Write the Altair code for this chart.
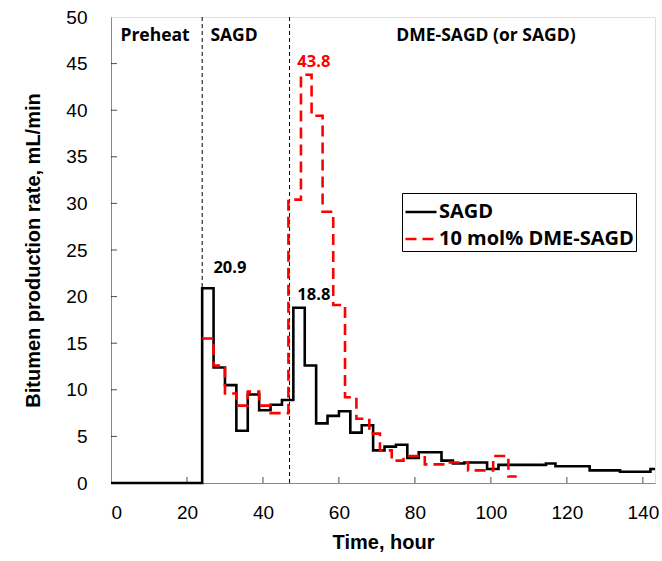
import altair as alt
import pandas as pd

# ---- data ----
sagd_t = [0, 24, 27, 30, 33, 36, 39, 42, 45, 48, 51, 54, 57, 60, 63, 66, 69, 72, 75, 78, 81, 87, 90, 93, 99,
          102, 114.5, 117, 126, 134, 142, 143.2]
sagd_v = [0, 20.9, 12.4, 10.5, 5.6, 9.5, 7.8, 8.4, 8.9, 18.8, 12.6, 6.4, 7.2, 7.7, 5.4, 6.2, 3.5, 3.9, 4.1,
          2.7, 3.3, 2.4, 2.1, 2.2, 1.5, 1.95, 2.1, 1.8, 1.35, 1.2, 1.5, 1.5]

dme_t = [24, 27, 30, 33, 36, 39, 42, 46.7, 50, 52.8, 55.7, 58.5, 61.6, 64.6, 68, 70.8, 73.9, 77, 82.6,
         88.5, 94, 100.6, 104.6, 106.8]
dme_v = [15.5, 12.6, 9.6, 8.3, 9.8, 8.3, 7.5, 30.4, 43.8, 39.4, 29.1, 19.1, 9.2, 6.9, 5.3, 3.5, 2.4, 2.9,
         2.0, 2.2, 1.35, 2.9, 0.7, 0.7]

series_names = ["SAGD", "10 mol% DME-SAGD"]
phase_boundaries = [24, 47]
phase_labels = ["Preheat", "SAGD", "DME-SAGD (or SAGD)"]
phase_label_t = [11.6, 32.4, 98.7]
peak_labels = ["20.9", "18.8", "43.8"]
peak_t = [31.3, 53.4, 53.4]
peak_v = [23.1, 20.2, 45.2]
peak_series = ["SAGD", "SAGD", "10 mol% DME-SAGD"]
x_ticks = [0, 20, 40, 60, 80, 100, 120, 140]
y_ticks = [0, 5, 10, 15, 20, 25, 30, 35, 40, 45, 50]

# ---- tables ----
rows = []
for i, (t, v) in enumerate(zip(sagd_t, sagd_v)):
    rows.append({"t": t, "v": v, "series": series_names[0], "i": i})
for i, (t, v) in enumerate(zip(dme_t, dme_v)):
    rows.append({"t": t, "v": v, "series": series_names[1], "i": i})
df = pd.DataFrame(rows)

W, H = 544, 466
FONT = "Open Sans"
XMAX = 143.2

xscale = alt.Scale(domain=[0, XMAX], nice=False, zero=False)
yscale = alt.Scale(domain=[0, 50], nice=False)
cscale = alt.Scale(domain=series_names, range=["#000000", "#FF0000"])
dscale = alt.Scale(domain=series_names, range=[[1, 0], [11, 6]])

xaxis = alt.Axis(values=x_ticks, title="Time, hour", tickSize=0, labelPadding=20, titlePadding=10,
                 labelFontSize=19, titleFontSize=20, grid=False)
yaxis = alt.Axis(values=y_ticks, title="Bitumen production rate, mL/min", tickSize=0, labelPadding=24,
                 titlePadding=22, labelFontSize=19, titleFontSize=20, grid=False)

legend = alt.Legend(orient="none", legendX=291, legendY=176, title=None, symbolType="stroke",
                    symbolSize=961, symbolStrokeWidth=2.5, labelFont=FONT, labelFontWeight="bold",
                    labelFontSize=20, labelColor="black", strokeColor="black", fillColor="white",
                    padding=2, rowPadding=-7, labelOffset=1, labelLimit=0)

lines = alt.Chart(df).mark_line(interpolate="step-after", strokeWidth=2.6).encode(
    x=alt.X("t:Q", scale=xscale, axis=xaxis),
    y=alt.Y("v:Q", scale=yscale, axis=yaxis),
    color=alt.Color("series:N", scale=cscale, legend=legend, sort=series_names),
    strokeDash=alt.StrokeDash("series:N", scale=dscale, legend=legend, sort=series_names),
    order=alt.Order("i:Q"),
)

bounds = alt.Chart(pd.DataFrame({"t": phase_boundaries})).mark_rule(
    color="black", strokeWidth=1, strokeDash=[4, 3]
).encode(x=alt.X("t:Q", scale=xscale), y=alt.value(0), y2=alt.value(H))

phase = alt.Chart(pd.DataFrame({"t": phase_label_t, "label": phase_labels})).mark_text(
    font=FONT, fontWeight="bold", fontSize=17.5, color="black", baseline="middle", align="center"
).encode(x=alt.X("t:Q", scale=xscale), y=alt.value(19), text="label:N")

peaks = alt.Chart(pd.DataFrame({"t": peak_t, "v": peak_v, "label": peak_labels, "series": peak_series})).mark_text(
    font=FONT, fontWeight="bold", fontSize=16.5, baseline="middle", align="center"
).encode(
    x=alt.X("t:Q", scale=xscale),
    y=alt.Y("v:Q", scale=yscale),
    text="label:N",
    color=alt.Color("series:N", scale=cscale, legend=None),
)

xt = alt.Chart(pd.DataFrame({"t": x_ticks[1:]})).mark_tick(
    orient="vertical", size=6, thickness=1, color="black"
).encode(x=alt.X("t:Q", scale=xscale), y=alt.value(H - 3))

yt = alt.Chart(pd.DataFrame({"v": y_ticks[1:-1]})).mark_tick(
    orient="horizontal", size=6, thickness=1, color="black"
).encode(y=alt.Y("v:Q", scale=yscale), x=alt.value(3))

chart = alt.layer(bounds, xt, yt, lines, phase, peaks).resolve_scale(color="shared").properties(
    width=W, height=H,
    autosize=alt.AutoSizeParams(type="none"),
    padding={"left": 111, "top": 17, "right": 7, "bottom": 78},
).configure_view(stroke="black", strokeWidth=1).configure_axis(
    labelFont=FONT, titleFont=FONT, labelFontWeight="bold", titleFontWeight="bold",
    labelColor="black", titleColor="black", domainColor="black", domainWidth=1.2,
).configure(background="white")

chart.save("out.html", embed_options={"renderer": "svg", "actions": False})
